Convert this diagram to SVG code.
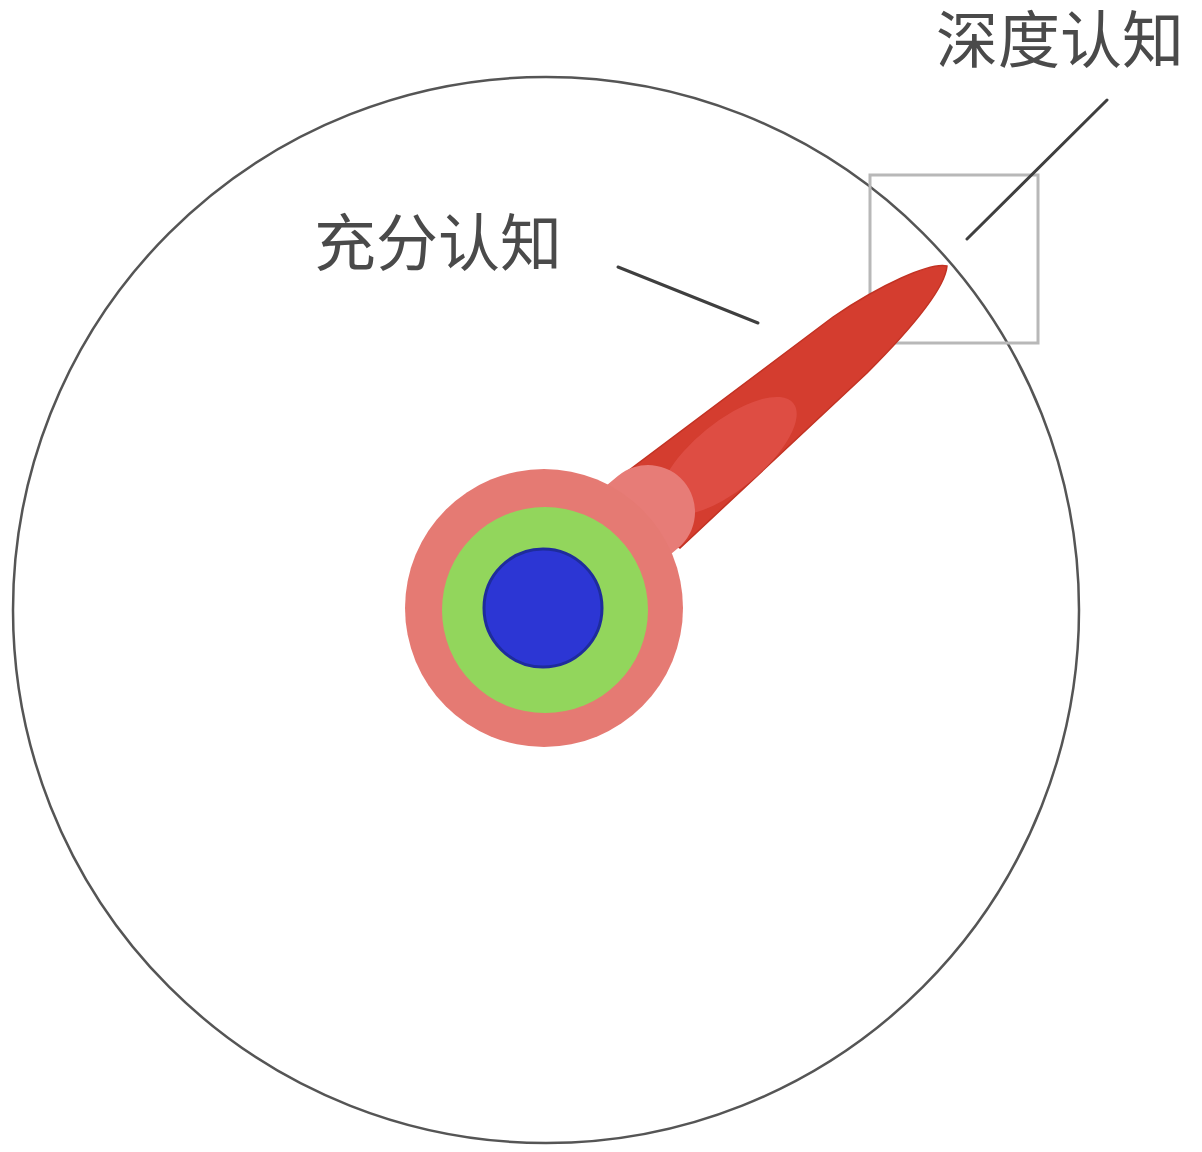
<svg xmlns="http://www.w3.org/2000/svg" width="1202" height="1152" viewBox="0 0 1202 1152">
<style>
.lbl{font-family:"Noto Sans CJK SC","Noto Sans",sans-serif;font-size:62px;fill:#4a4a4a}
.conn{stroke:#3f3f3f;stroke-width:3;fill:none;stroke-linecap:round}
</style>
<rect width="1202" height="1152" fill="#ffffff"/>
<g id="outer-circle">
<circle cx="546" cy="610" r="533" fill="none" stroke="#555" stroke-width="2.5"/>
</g>
<g id="focus-box">
<rect x="870" y="175" width="168" height="168" fill="none" stroke="#b8b8b8" stroke-width="3"/>
</g>
<g id="deep-spike">
<path d="M947,266 C930,262 880,285 833,317 L600,492 L680,548 L867,373 C905,335 945,290 947,266 Z" fill="#d43d2f" stroke="#c23223" stroke-width="1.5"/>
<ellipse cx="728" cy="456" rx="84" ry="34" transform="rotate(-39 728 456)" fill="#e45852" opacity="0.6"/>
</g>
<g id="core">
<line x1="538" y1="604" x2="648" y2="512" stroke="#e77c77" stroke-width="94" stroke-linecap="round"/>
<circle cx="544" cy="608" r="139" fill="#e57a73"/>
<circle cx="545" cy="610" r="103" fill="#92d65c"/>
<circle cx="543" cy="608" r="59" fill="#2c36d4" stroke="#1e2c9c" stroke-width="3"/>
</g>
<g id="connectors">
<line class="conn" x1="1107" y1="100" x2="967" y2="239"/>
<line class="conn" x1="618" y1="267" x2="758" y2="323"/>
</g>
<g id="label-deep">
<text class="lbl" x="936" y="63">深度认知</text>
</g>
<g id="label-full">
<text class="lbl" x="314" y="266">充分认知</text>
</g>
</svg>
